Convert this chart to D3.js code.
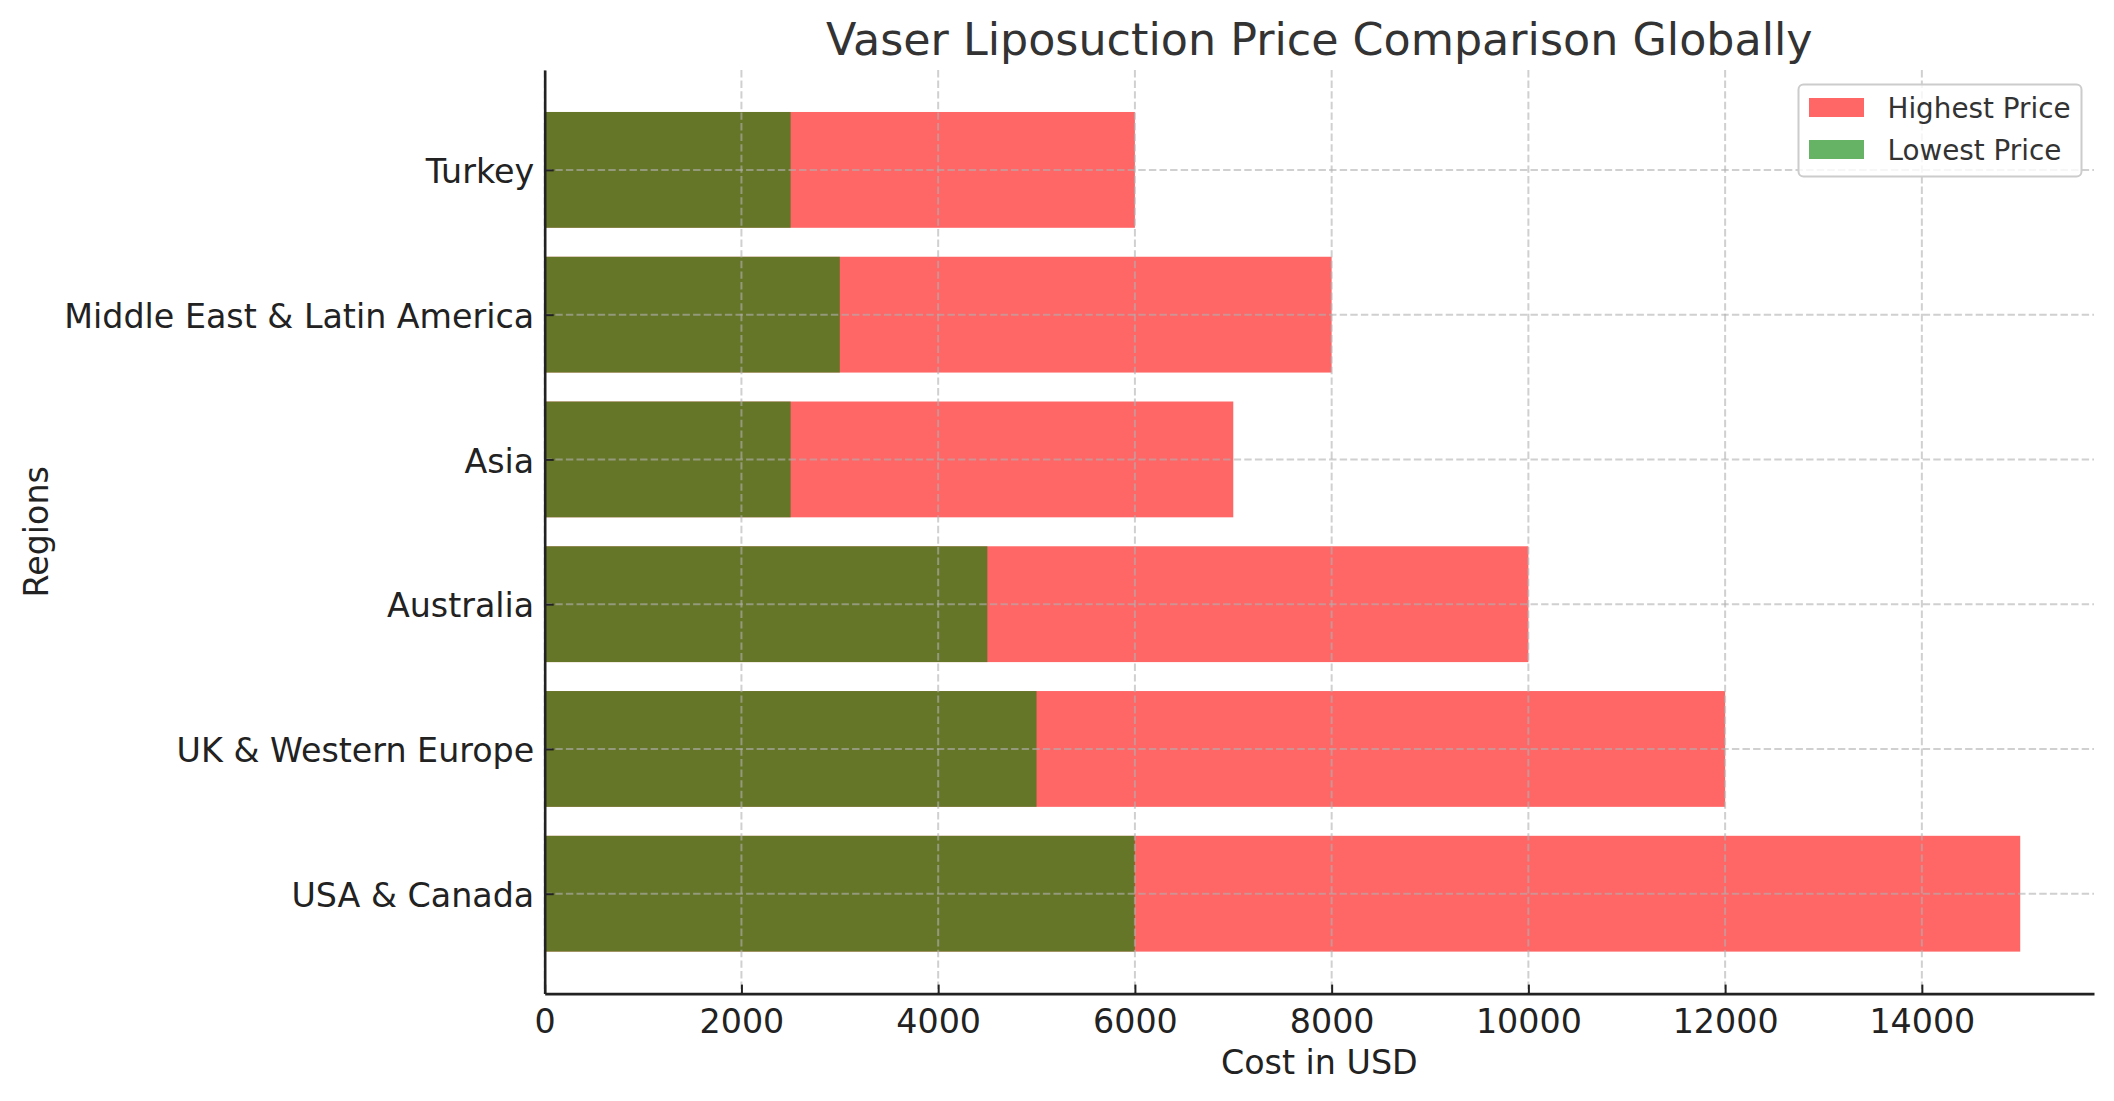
<!DOCTYPE html>
<html>
<head>
<meta charset="utf-8">
<script src="https://cdn.jsdelivr.net/npm/d3@7"></script>
<style>
  body { margin: 0; background: #fff; }
  text { font-family: "DejaVu Sans", sans-serif; }
</style>
</head>
<body>
<svg id="chart"></svg>
<script>
// data
const regions = ['USA & Canada', 'UK & Western Europe', 'Australia', 'Asia', 'Middle East & Latin America', 'Turkey'];
const lowestPrice = [6000, 5000, 4500, 2500, 3000, 2500];
const highestPrice = [15000, 12000, 10000, 7000, 8000, 6000];
const xTicks = [0, 2000, 4000, 6000, 8000, 10000, 12000, 14000];
const seriesNames = ['Highest Price', 'Lowest Price'];

const width = 2114, height = 1101;
const margin = {top: 70, right: 20, bottom: 107.4, left: 544.7};
const innerW = width - margin.left - margin.right;
const innerH = height - margin.top - margin.bottom;

const svg = d3.select('#chart').attr('width', width).attr('height', height);
const chart = svg.append('g').attr('transform', `translate(${margin.left},${margin.top})`);

// matplotlib style limits: x from 0 with 5% headroom, y padded around the bars
const xscale = d3.scaleLinear().domain([0, 15750]).range([0, innerW]);
const yscale = d3.scaleLinear().domain([-0.69, 5.69]).range([innerH, 0]);
const barH = yscale(0) - yscale(0.8);

const rows = regions.map((r, i) => ({region: r, idx: i, low: lowestPrice[i], high: highestPrice[i]}));

// highest price bars first, lowest on top (both translucent)
chart.append('g').selectAll('rect')
    .data(rows)
    .join('rect')
    .attr('x', xscale(0))
    .attr('y', d => yscale(d.idx) - barH / 2)
    .attr('width', d => xscale(d.high) - xscale(0))
    .attr('height', barH)
    .attr('fill', 'red')
    .attr('fill-opacity', 0.6);

chart.append('g').selectAll('rect')
    .data(rows)
    .join('rect')
    .attr('x', xscale(0))
    .attr('y', d => yscale(d.idx) - barH / 2)
    .attr('width', d => xscale(d.low) - xscale(0))
    .attr('height', barH)
    .attr('fill', 'green')
    .attr('fill-opacity', 0.6);

// grid (drawn over the bars)
const grid = chart.append('g')
    .attr('stroke', '#b0b0b0')
    .attr('stroke-opacity', 0.6)
    .attr('stroke-width', 2)
    .attr('stroke-dasharray', '7.4,3.2');
grid.selectAll('.vgrid')
    .data(xTicks)
    .join('line')
    .attr('x1', d => xscale(d)).attr('x2', d => xscale(d))
    .attr('y1', 0).attr('y2', innerH);
grid.selectAll('.hgrid')
    .data(rows)
    .join('line')
    .attr('x1', 0).attr('x2', innerW)
    .attr('y1', d => yscale(d.idx)).attr('y2', d => yscale(d.idx));

// axes, ticks pointing inward
const xaxis = d3.axisBottom(xscale)
    .tickValues(xTicks)
    .tickFormat(d3.format('d'))
    .tickSizeInner(-9)
    .tickSizeOuter(0)
    .tickPadding(16);
const yaxis = d3.axisLeft(yscale)
    .tickValues(rows.map(d => d.idx))
    .tickFormat(i => regions[i])
    .tickSizeInner(-9)
    .tickSizeOuter(0)
    .tickPadding(10.5);

const xg = chart.append('g').attr('transform', `translate(0,${innerH})`).call(xaxis);
const yg = chart.append('g').call(yaxis);
[xg, yg].forEach(g => {
    g.select('.domain').attr('stroke', '#222').attr('stroke-width', 2.6);
    g.selectAll('.tick line').attr('stroke', '#222').attr('stroke-width', 2);
    g.selectAll('.tick text').attr('fill', '#222').style('font-size', '33.3px');
});
xg.selectAll('.tick text').attr('dy', '0.71em');
yg.selectAll('.tick text').attr('dy', '0.38em');

// titles
svg.append('text')
    .attr('x', margin.left + innerW / 2)
    .attr('y', 54.5)
    .attr('text-anchor', 'middle')
    .attr('fill', '#333')
    .style('font-size', '44.4px')
    .text('Vaser Liposuction Price Comparison Globally');

svg.append('text')
    .attr('x', margin.left + innerW / 2)
    .attr('y', 1074)
    .attr('text-anchor', 'middle')
    .attr('fill', '#222')
    .style('font-size', '33.3px')
    .text('Cost in USD');

svg.append('text')
    .attr('transform', `translate(48,${margin.top + innerH / 2}) rotate(-90)`)
    .attr('text-anchor', 'middle')
    .attr('fill', '#222')
    .style('font-size', '33.3px')
    .text('Regions');

// legend
const legend = svg.append('g').attr('transform', 'translate(1798.5,84.5)');
legend.append('rect')
    .attr('width', 283).attr('height', 92)
    .attr('rx', 5)
    .attr('fill', '#fff').attr('fill-opacity', 0.8)
    .attr('stroke', '#cccccc').attr('stroke-width', 2);
const legendColors = ['red', 'green'];
const items = legend.selectAll('.item')
    .data(seriesNames)
    .join('g')
    .attr('transform', (d, i) => `translate(0,${i * 42})`);
items.append('rect')
    .attr('x', 10.5).attr('y', 13.5)
    .attr('width', 55).attr('height', 19)
    .attr('fill', (d, i) => legendColors[i])
    .attr('fill-opacity', 0.6);
items.append('text')
    .attr('x', 89).attr('y', 33.5)
    .attr('fill', '#333')
    .style('font-size', '27.8px')
    .text(d => d);
</script>
</body>
</html>
